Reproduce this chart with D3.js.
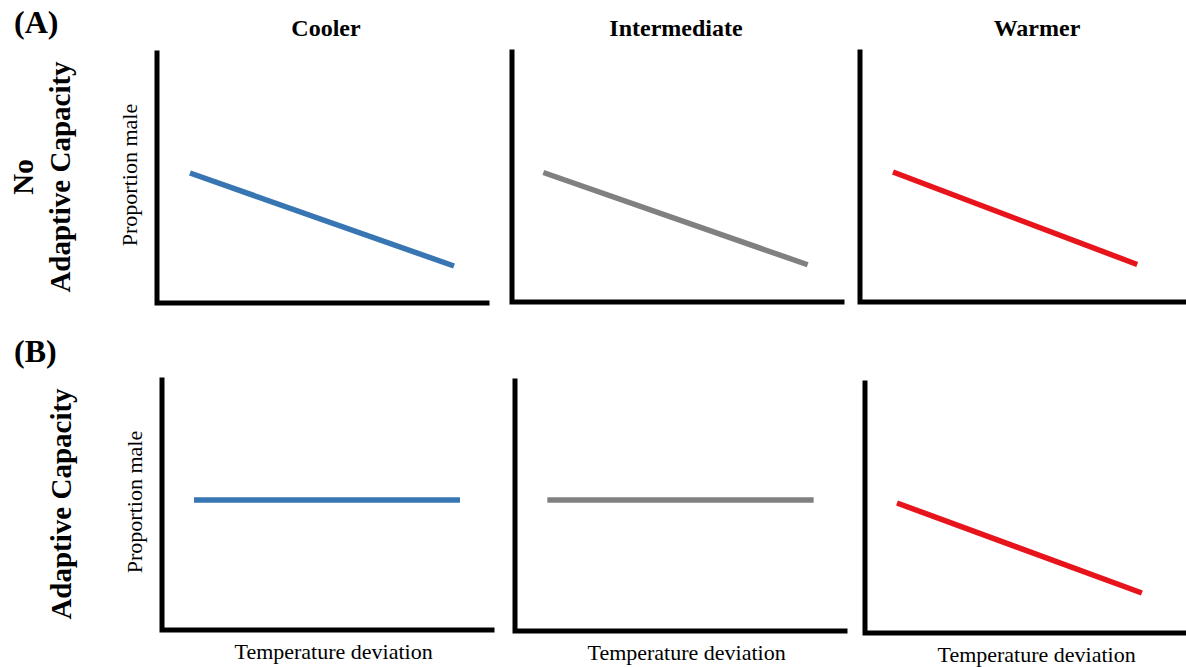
<!DOCTYPE html>
<html>
<head>
<meta charset="utf-8">
<script src="https://cdn.jsdelivr.net/npm/d3@7"></script>
<style>
  body { margin: 0; background: #fff; }
  svg { display: block; }
  text { font-family: "Liberation Serif", "Times New Roman", serif; fill: #000; }
  .axis-line { stroke: #000; stroke-width: 5; fill: none; }
</style>
</head>
<body>
<div id="wrapper"></div>
<script>
// 1. Data (conceptual: x = temperature deviation, y = proportion male, both 0..1)

const columns = ["Cooler", "Intermediate", "Warmer"]
const rows = ["(A)", "(B)"]
const rowLabels = [["No", "Adaptive Capacity"], ["Adaptive Capacity"]]
const columnColors = ["#3776b3", "#808080", "#e8141b"]
const xLabel = "Temperature deviation"
const yLabel = "Proportion male"

// start / end points of each panel's line, row by row
const noAdaptiveLines = [
  [{ x: 0.10, y: 0.52 }, { x: 0.90, y: 0.148 }],
  [{ x: 0.095, y: 0.518 }, { x: 0.896, y: 0.149 }],
  [{ x: 0.10, y: 0.52 }, { x: 0.84, y: 0.15 }],
]
const adaptiveLines = [
  [{ x: 0.097, y: 0.52 }, { x: 0.903, y: 0.52 }],
  [{ x: 0.098, y: 0.524 }, { x: 0.905, y: 0.524 }],
  [{ x: 0.097, y: 0.52 }, { x: 0.839, y: 0.16 }],
]
const lineSets = [noAdaptiveLines, adaptiveLines]

// 2. Dimensions

const dimensions = { width: 1186, height: 667 }
const panelWidth = 330
const panelHeight = 250
// left edge (y axis) and bottom (x axis) of each panel
const panelLeft = [[157, 512, 860], [162, 515, 865]]
const panelBottom = [[303, 302, 302], [630, 631, 633]]

// 3. Draw canvas

const wrapper = d3.select("#wrapper")
  .append("svg")
    .attr("width", dimensions.width)
    .attr("height", dimensions.height)

// 4. Scales

const xScale = d3.scaleLinear().domain([0, 1]).range([0, panelWidth])
const yScale = d3.scaleLinear().domain([0, 1]).range([panelHeight, 0])

const lineGenerator = d3.line()
  .x(d => xScale(d.x))
  .y(d => yScale(d.y))

// 5. Draw data and panels

lineSets.forEach((lines, r) => {
  lines.forEach((points, c) => {
    const panel = wrapper.append("g")
      .attr("transform", `translate(${panelLeft[r][c]}, ${panelBottom[r][c] - panelHeight})`)

    panel.append("path")
      .attr("class", "axis-line")
      .attr("d", `M${xScale(0)},${yScale(1)}V${yScale(0)}H${xScale(1)}`)
      .attr("stroke-linecap", "square")

    panel.append("path")
      .datum(points)
      .attr("d", lineGenerator)
      .attr("fill", "none")
      .attr("stroke", columnColors[c])
      .attr("stroke-width", 5.5)

    if (c === 0) {
      panel.append("text")
        .attr("transform", `translate(-20, ${yScale(0.5) - 3}) rotate(-90)`)
        .attr("text-anchor", "middle")
        .style("font-size", "22px")
        .text(yLabel)
    }
    if (r === 1) {
      panel.append("text")
        .attr("x", xScale(0.52))
        .attr("y", panelHeight + 29)
        .attr("text-anchor", "middle")
        .style("font-size", "22px")
        .text(xLabel)
    }
  })
})

// 6. Peripherals

const titleX = [326, 676, 1037]
columns.forEach((name, i) => {
  wrapper.append("text")
    .attr("x", titleX[i])
    .attr("y", 36)
    .attr("text-anchor", "middle")
    .style("font-size", "24px")
    .style("font-weight", "bold")
    .text(name)
})

const rowTagY = [33, 362]
rows.forEach((tag, i) => {
  wrapper.append("text")
    .attr("x", 14)
    .attr("y", rowTagY[i])
    .style("font-size", "32px")
    .style("font-weight", "bold")
    .text(tag)
})

const rowLabelY = [177, 504]
rowLabels.forEach((lines, i) => {
  const label = wrapper.append("text")
    .attr("transform", `translate(0, ${rowLabelY[i]}) rotate(-90)`)
    .attr("text-anchor", "middle")
    .style("font-size", "29px")
    .style("font-weight", "bold")
  lines.forEach((line, j) => {
    label.append("tspan")
      .attr("x", 0)
      .attr("y", lines.length === 1 ? 71 : (j === 0 ? 33 : 70))
      .text(line)
  })
})
</script>
</body>
</html>
